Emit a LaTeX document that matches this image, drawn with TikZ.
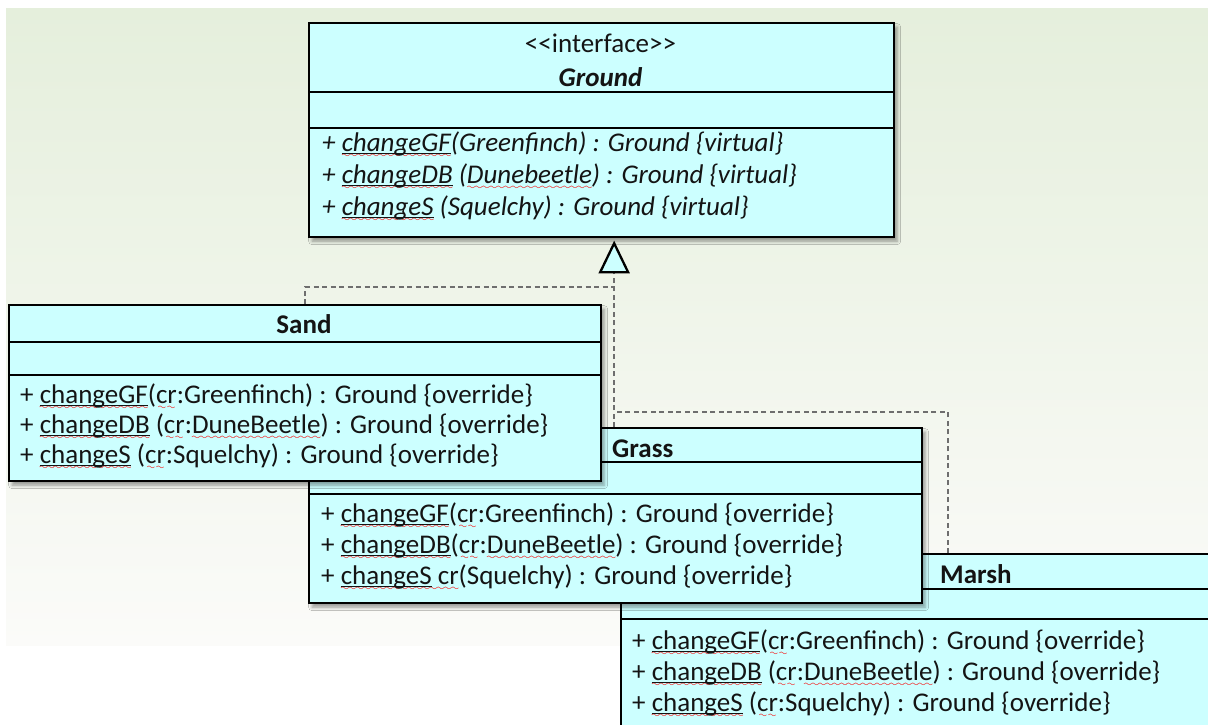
\documentclass[tikz,border=0pt]{standalone}
\usepackage{fontspec}
\setmainfont{Carlito}[Ligatures=TeXOff]
\usetikzlibrary{shadows.blur}

\definecolor{boxfill}{RGB}{204,255,255}
\definecolor{bgtop}{RGB}{229,239,220}
\definecolor{bgmid}{RGB}{243,246,239}
\definecolor{bgbot}{RGB}{251,251,249}
\definecolor{squig}{RGB}{240,55,55}
\definecolor{dashgrey}{RGB}{110,110,110}
\definecolor{ink}{RGB}{20,20,20}

% spell-check wave and operation underline
\font\wavefont=lasy6 scaled 1400
\newcommand\wavefill[1]{\lower#1\hbox to\wd0{\xleaders\hbox{\wavefont\char58}\hfil}}
\newcommand\undl[1]{\setbox0\hbox{#1}\rlap{\vrule height -2pt depth 3.1pt width\wd0}\box0\relax}
\newcommand\sqg[1]{\setbox0\hbox{#1}\rlap{\color{squig}\wavefill{6pt}}\rlap{\color{squig}\wavefill{6.6pt}}\box0\relax}
\newcommand\mname[1]{\sqg{\undl{#1}}}

\tikzset{
  classbox/.style={draw=black, line width=2.3pt, fill=boxfill, inner sep=0pt,
    anchor=north west,
    blur shadow={shadow xshift=3pt, shadow yshift=-4pt, shadow blur radius=3.5pt, shadow opacity=40}},
  divider/.style={draw=black, line width=2pt},
  txt/.style={inner sep=0pt, text=ink, font=\fontsize{27}{31}\selectfont},
  member/.style={txt, anchor=base west},
  titlec/.style={txt, anchor=base, font=\fontsize{27}{31}\selectfont\bfseries},
  titlel/.style={txt, anchor=base west, font=\fontsize{27}{31}\selectfont\bfseries},
  realize/.style={draw=dashgrey, line width=1.6pt, dash pattern=on 5pt off 3.5pt},
  hollowtri/.style={draw=black, line width=2.3pt, fill=boxfill, line join=miter},
}

\begin{document}
\begin{tikzpicture}[x=1pt, y=-1pt]
\useasboundingbox (0,0) rectangle (1208,725);
\clip (0,0) rectangle (1208,725);

% page background
\fill[white] (0,0) rectangle (1208,725);
\shade[top color=bgtop, middle color=bgmid, bottom color=bgbot] (6,9) rectangle (1208,645);

% interface frame (drawn first: its anchors place the arrow head)
\node[classbox, minimum width=585pt, minimum height=214pt] (ground) at (308,22) {};
\coordinate (gtip) at ([xshift=12.5pt, yshift=-5pt]ground.south);
\coordinate (gbase) at ([yshift=-29pt]gtip);

% ---- Marsh ----
\node[classbox, minimum width=620pt, minimum height=190pt] (marsh) at (620,553) {};
\draw[divider] ([yshift=-36pt]marsh.north west) -- ([yshift=-36pt]marsh.north east);
\draw[divider] ([yshift=-66pt]marsh.north west) -- ([yshift=-66pt]marsh.north east);
\node[titlel] (marshtitle) at (940,583) {Marsh};
\node[member] (marsh1) at (632,649) {+ \mname{changeGF}(\sqg{cr}:Greenfinch) : Ground \{override\}};
\node[member] (marsh2) at (632,680) {+ \mname{changeDB} (\sqg{cr}:\sqg{DuneBeetle}) : Ground \{override\}};
\node[member] (marsh3) at (632,711) {+ \mname{changeS} (\sqg{cr}:Squelchy) : Ground \{override\}};

% ---- Grass ----
\node[classbox, minimum width=613pt, minimum height=175pt] (grass) at (308,427) {};
\draw[divider] ([yshift=-35pt]grass.north west) -- ([yshift=-35pt]grass.north east);
\draw[divider] ([yshift=-67pt]grass.north west) -- ([yshift=-67pt]grass.north east);
\node[titlel] (grasstitle) at (612,457) {Grass};
\node[member] (grass1) at (321,522) {+ \mname{changeGF}(\sqg{cr}:Greenfinch) : Ground \{override\}};
\node[member] (grass2) at (321,553) {+ \mname{changeDB}(\sqg{cr}:\sqg{DuneBeetle}) : Ground \{override\}};
\node[member] (grass3) at (321,584) {+ \sqg{\undl{changeS} cr}(Squelchy) : Ground \{override\}};

% ---- realization connectors from Grass and Marsh ----
\draw[realize] (grass.north -| gbase) -- (gbase);
\draw[realize] ([xshift=328pt]marsh.north west) -- ++(0,-141) coordinate (mj) -- (mj -| gbase);

% ---- Sand ----
\node[classbox, minimum width=592pt, minimum height=176pt] (sand) at (8,304) {};
\draw[realize] (sand.north) -- ++(0,-17) coordinate (sj) -- (sj -| gbase);
\draw[divider] ([yshift=-38pt]sand.north west) -- ([yshift=-38pt]sand.north east);
\draw[divider] ([yshift=-71pt]sand.north west) -- ([yshift=-71pt]sand.north east);
\node[titlec] (sandtitle) at (304,333) {Sand};
\node[member] (sand1) at (20,403) {+ \mname{changeGF}(\sqg{cr}:Greenfinch) : Ground \{override\}};
\node[member] (sand2) at (20,433) {+ \mname{changeDB} (\sqg{cr}:\sqg{DuneBeetle}) : Ground \{override\}};
\node[member] (sand3) at (20,463) {+ \mname{changeS} (\sqg{cr}:Squelchy) : Ground \{override\}};

% ---- Ground (interface) ----
\draw[divider] ([yshift=-70pt]ground.north west) -- ([yshift=-70pt]ground.north east);
\draw[divider] ([yshift=-106pt]ground.north west) -- ([yshift=-106pt]ground.north east);
\node[txt, anchor=base] (stereo) at (600.5,53) {<<interface>>};
\node[titlec, font=\fontsize{27}{31}\selectfont\bfseries\itshape] (groundtitle) at (600.5,87) {Ground};
\node[member, font=\fontsize{27}{31}\selectfont\itshape] (ground1) at (322,151) {+ \mname{changeGF}(Greenfinch) : Ground \{virtual\}};
\node[member, font=\fontsize{27}{31}\selectfont\itshape] (ground2) at (322,183) {+ \mname{changeDB} (\sqg{Dunebeetle}) : Ground \{virtual\}};
\node[member, font=\fontsize{27}{31}\selectfont\itshape] (ground3) at (322,215) {+ \mname{changeS} (Squelchy) : Ground \{virtual\}};

% hollow realization head
\draw[hollowtri] (gtip) -- ([xshift=-14pt]gbase) -- ([xshift=14pt]gbase) -- cycle;
\end{tikzpicture}
\end{document}
